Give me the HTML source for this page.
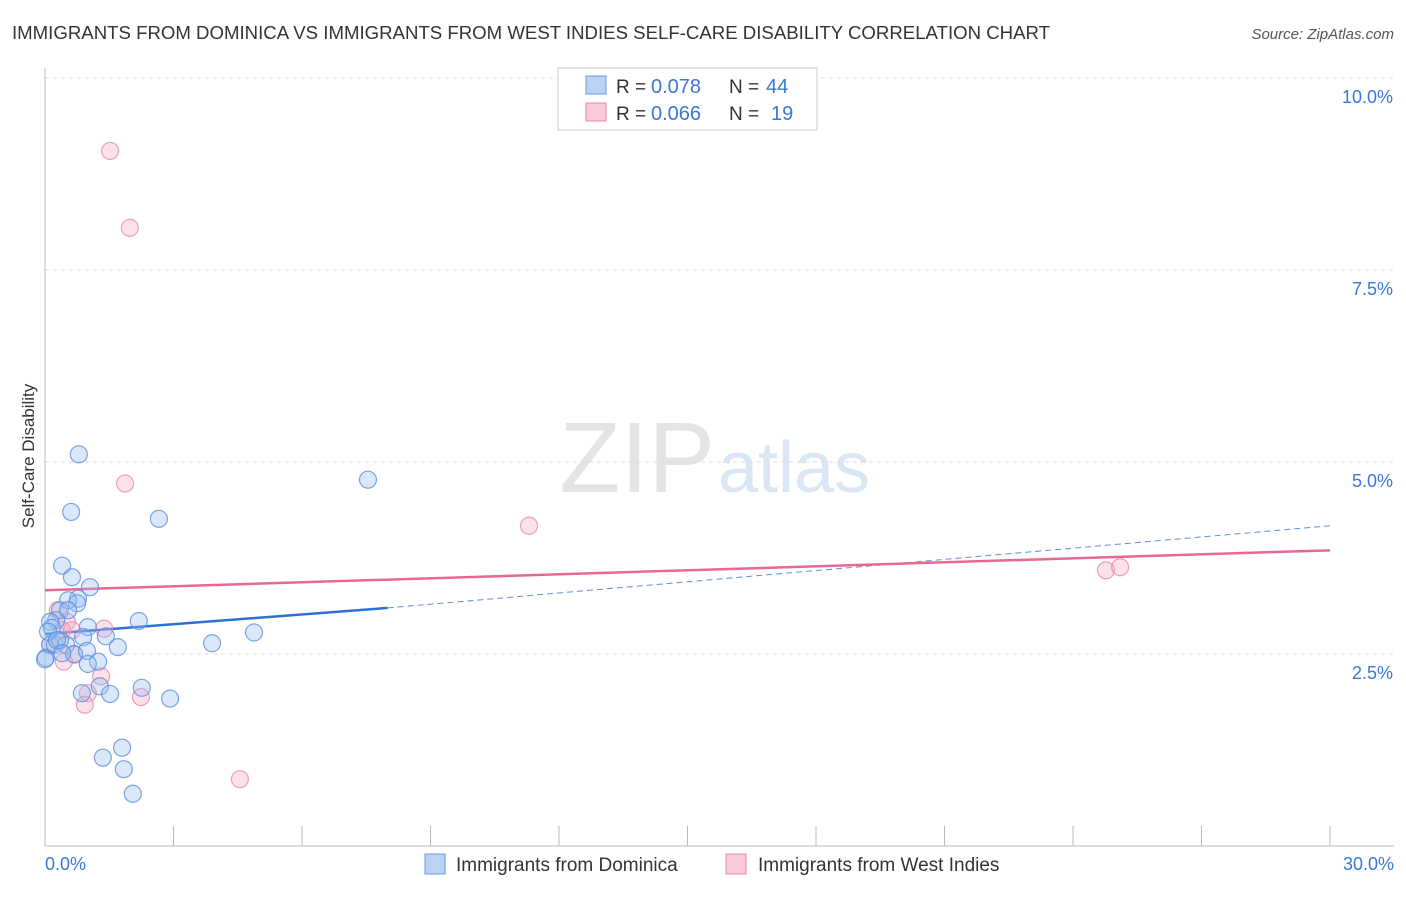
<!DOCTYPE html>
<html><head><meta charset="utf-8"><style>
body{margin:0;background:#fff;font-family:"Liberation Sans",sans-serif;}
svg text{font-family:"Liberation Sans",sans-serif;}
</style></head><body>
<svg width="1406" height="892" xmlns="http://www.w3.org/2000/svg">
<text x="12" y="39" font-size="18" fill="#333" textLength="1038" lengthAdjust="spacingAndGlyphs">IMMIGRANTS FROM DOMINICA VS IMMIGRANTS FROM WEST INDIES SELF-CARE DISABILITY CORRELATION CHART</text>
<text x="1394" y="39" font-size="15" fill="#555" font-style="italic" text-anchor="end">Source: ZipAtlas.com</text>
<text x="715" y="492" font-size="100" fill="#e4e4e4" text-anchor="end" font-family="Liberation Serif">ZIP</text>
<text x="718" y="492" font-size="72" fill="#dbe6f5">atlas</text>
<g id="grid"></g>
<line x1="45" y1="68" x2="45" y2="846" stroke="#bbb"/>
<line x1="45" y1="846" x2="1394" y2="846" stroke="#bbb"/>
<g id="ticks"></g>
<text transform="translate(34,456) rotate(-90)" font-size="17" fill="#333" text-anchor="middle">Self-Care Disability</text>
<text x="45" y="870" font-size="18" fill="#3a78d4">0.0%</text>
<text x="1394" y="870" font-size="18" fill="#3a78d4" text-anchor="end">30.0%</text>
<g id="lines"></g>
<g id="points"></g>
<g>
<rect x="558" y="68" width="259" height="62" fill="#fff" stroke="#ccc"/>
<rect x="586" y="76" width="20" height="18" fill="#b9d3f4" stroke="#6f9be0"/>
<text x="616" y="93" font-size="19" fill="#333">R =</text>
<text x="651" y="93" font-size="20" fill="#3a78d4">0.078</text>
<text x="729" y="93" font-size="19" fill="#333">N =</text>
<text x="766" y="93" font-size="20" fill="#3a78d4">44</text>
<rect x="586" y="103" width="20" height="18" fill="#f9c9d7" stroke="#e68aa6"/>
<text x="616" y="120" font-size="19" fill="#333">R =</text>
<text x="651" y="120" font-size="20" fill="#3a78d4">0.066</text>
<text x="729" y="120" font-size="19" fill="#333">N =</text>
<text x="771" y="120" font-size="20" fill="#3a78d4">19</text>
</g>
<g>
<rect x="425" y="854" width="20" height="20" fill="#b9d3f4" stroke="#6f9be0"/>
<text x="456" y="871" font-size="19" fill="#333">Immigrants from Dominica</text>
<rect x="726" y="854" width="20" height="20" fill="#f9c9d7" stroke="#e68aa6"/>
<text x="758" y="871" font-size="19" fill="#333">Immigrants from West Indies</text>
</g>
</svg>
<script>
const yTicks=[2.5,5.0,7.5,10.0];
const yTickLabels=["2.5%","5.0%","7.5%","10.0%"];
const blueX=[0.79,0.61,2.66,7.54,0.40,0.63,1.05,0.77,0.54,0.75,0.35,0.54,0.26,0.12,0.16,1.00,2.19,1.42,0.89,0.12,0.23,0.49,0.35,1.70,3.90,4.88,0.68,0.98,0.02,1.24,1.00,1.28,2.26,0.86,1.52,2.92,1.80,1.35,1.84,2.05,0.07,0.28,0.00,0.40];
const blueY=[5.10,4.35,4.26,4.77,3.65,3.50,3.37,3.22,3.20,3.16,3.07,3.07,2.94,2.92,2.84,2.85,2.93,2.73,2.72,2.62,2.62,2.62,2.68,2.59,2.64,2.78,2.50,2.54,2.45,2.40,2.37,2.08,2.06,1.99,1.98,1.92,1.28,1.15,1.00,0.68,2.79,2.68,2.43,2.51];
const pinkX=[1.52,1.98,1.87,11.30,24.77,25.10,0.30,0.51,1.38,0.40,0.63,0.12,0.68,0.44,1.31,1.00,2.24,0.93,4.55];
const pinkY=[9.05,8.05,4.72,4.17,3.59,3.63,3.07,2.92,2.83,2.81,2.81,2.62,2.49,2.40,2.21,1.99,1.94,1.84,0.87];
const blueTrend=[0,2.76,8,3.10,30,4.17];
const pinkTrend=[0,3.33,30,3.85];
const X=v=>45+v/30*1285, Y=v=>846-v/10*768;
const NS="http://www.w3.org/2000/svg";
function mk(t,a,p){const e=document.createElementNS(NS,t);for(const k in a)e.setAttribute(k,a[k]);p.appendChild(e);return e;}
const grid=document.getElementById('grid');
yTicks.forEach((v,i)=>{
 const l=mk('line',{x1:45,x2:1394,y1:Y(v),y2:Y(v),stroke:'#ddd','stroke-dasharray':'4,4'},grid);
 
 
 const t=mk('text',{x:1393,y:Y(v)+25,'font-size':18,fill:'#3a78d4','text-anchor':'end'},grid);
 t.textContent=yTickLabels[i];
 
 
});
const ticks=document.getElementById('ticks');
for(let i=1;i<=10;i++){const l=mk('line',{x1:X(i*3),x2:X(i*3),y1:826,y2:846,stroke:'#bbb'},ticks);
 
 }
const lines=document.getElementById('lines');
let b=mk('line',{x1:X(blueTrend[0]),y1:Y(blueTrend[1]),x2:X(blueTrend[2]),y2:Y(blueTrend[3]),stroke:'#2e6fd6','stroke-width':2.5},lines);


let bd=mk('line',{x1:X(blueTrend[2]),y1:Y(blueTrend[3]),x2:X(blueTrend[4]),y2:Y(blueTrend[5]),stroke:'#5b8fe0','stroke-width':1,'stroke-dasharray':'6,4'},lines);


let p=mk('line',{x1:X(pinkTrend[0]),y1:Y(pinkTrend[1]),x2:X(pinkTrend[2]),y2:Y(pinkTrend[3]),stroke:'#e8688f','stroke-width':2.5},lines);


const pts=document.getElementById('points');
pinkX.forEach((x,i)=>{const c=mk('circle',{cx:X(x),cy:Y(pinkY[i]),r:8.5,fill:'rgba(245,170,195,0.35)',stroke:'rgba(232,138,168,0.8)','stroke-width':1.2},pts);
 
 });
blueX.forEach((x,i)=>{const c=mk('circle',{cx:X(x),cy:Y(blueY[i]),r:8.5,fill:'rgba(150,190,240,0.35)',stroke:'rgba(91,143,224,0.8)','stroke-width':1.2},pts);
 
 });
</script>
</body></html>
